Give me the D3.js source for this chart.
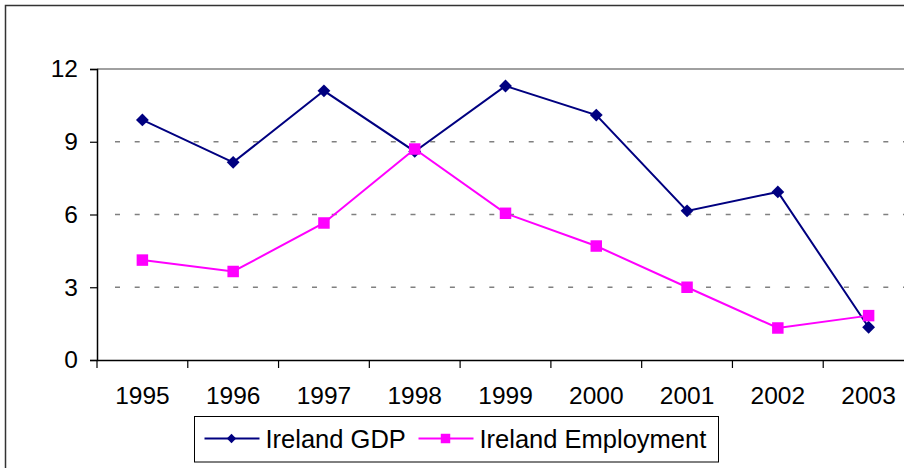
<!DOCTYPE html>
<html>
<head>
<meta charset="utf-8">
<script src="https://cdn.jsdelivr.net/npm/d3@7"></script>
<style>
  body { margin: 0; background: #fff; }
  svg { display: block; font-family: "Liberation Sans", Arial, sans-serif; }
</style>
</head>
<body>
<div id="chart"></div>
<script>
const years = ['1995', '1996', '1997', '1998', '1999', '2000', '2001', '2002', '2003']
const gdp = [9.9, 8.15, 11.1, 8.6, 11.3, 10.1, 6.15, 6.93, 1.35]
const employment = [4.12, 3.65, 5.65, 8.7, 6.05, 4.7, 3.0, 1.32, 1.83]
const yTicks = [0, 3, 6, 9, 12]

const margin = {top: 69, left: 97}
const plotW = 817, plotH = 291

const svg = d3.select('#chart')
  .append('svg')
    .attr('width', 904)
    .attr('height', 468)

// outer frame
svg.append('rect')
  .attr('x', 5.5).attr('y', 5.5)
  .attr('width', 1000).attr('height', 1000)
  .attr('fill', 'none')
  .attr('stroke', '#333')
  .attr('stroke-width', 1.5)

const g = svg.append('g')
  .attr('transform', `translate(${margin.left},${margin.top})`)

const x = d3.scaleBand().domain(years).range([0, plotW])
const y = d3.scaleLinear().domain([0, 12]).range([plotH, 0])

// gridlines
g.append('g')
  .selectAll('line')
  .data(yTicks.filter(d => d > 0))
  .enter()
  .append('line')
    .attr('x1', d => d === 12 ? 0 : 18).attr('x2', plotW)
    .attr('y1', d => y(d)).attr('y2', d => y(d))
    .attr('stroke', '#808080')
    .attr('stroke-width', 1.6)
    .attr('stroke-dasharray', d => d === 12 ? null : '5,14.7')

// axes
const leftAxis = d3.axisLeft(y).tickValues(yTicks).tickSize(7).tickPadding(12)
const bottomAxis = d3.axisBottom(x).tickSize(0).tickPadding(27)

const ya = g.append('g').call(leftAxis)
const xa = g.append('g').attr('transform', `translate(0,${plotH})`).call(bottomAxis)

// x ticks between categories
xa.append('g')
  .selectAll('line')
  .data(years)
  .enter()
  .append('line')
    .attr('x1', d => x(d)).attr('x2', d => x(d))
    .attr('y1', 0).attr('y2', 8)
    .attr('stroke', '#000')
    .attr('stroke-width', 1.2)

;[ya, xa].forEach(a => {
  a.select('.domain').attr('stroke', '#000').attr('stroke-width', 1.5)
  a.selectAll('.tick line').attr('stroke', '#000').attr('stroke-width', 1.2)
  a.selectAll('text').attr('font-size', 24.5).attr('fill', '#000')
    .style('font-family', '"Liberation Sans", Arial, sans-serif')
})

const cx = d => x(d) + x.bandwidth() / 2
const line = vals => d3.line()
  .x((d, i) => cx(years[i]))
  .y(d => y(d))(vals)

// series
g.append('path').attr('d', line(gdp))
  .attr('fill', 'none').attr('stroke', '#000080').attr('stroke-width', 2)
g.append('path').attr('d', line(employment))
  .attr('fill', 'none').attr('stroke', '#ff00ff').attr('stroke-width', 2)

const diamond = d3.symbol().type(d3.symbolDiamond2).size(105)
const square = d3.symbol().type(d3.symbolSquare).size(132)

g.append('g').selectAll('path')
  .data(gdp).enter()
  .append('path')
    .attr('d', diamond)
    .attr('transform', (d, i) => `translate(${cx(years[i])},${y(d)})`)
    .attr('fill', '#000080')

g.append('g').selectAll('path')
  .data(employment).enter()
  .append('path')
    .attr('d', square)
    .attr('transform', (d, i) => `translate(${cx(years[i])},${y(d)})`)
    .attr('fill', '#ff00ff')

// legend
const legend = svg.append('g').attr('transform', 'translate(194.5,416.5)')
legend.append('rect')
  .attr('width', 524).attr('height', 45.5)
  .attr('fill', '#fff').attr('stroke', '#000').attr('stroke-width', 1)

const legDiamond = d3.symbol().type(d3.symbolDiamond2).size(55)
const legSquare = d3.symbol().type(d3.symbolSquare).size(90)
const items = [
  {name: 'Ireland GDP', color: '#000080', sym: legDiamond, x: 10},
  {name: 'Ireland Employment', color: '#ff00ff', sym: legSquare, x: 224}
]
const li = legend.selectAll('.item').data(items).enter()
  .append('g').attr('transform', d => `translate(${d.x},22)`)
li.append('line').attr('x1', 0).attr('x2', 55)
  .attr('stroke', d => d.color).attr('stroke-width', 2)
li.append('path').attr('d', d => d.sym()).attr('transform', 'translate(27,0)')
  .attr('fill', d => d.color)
li.append('text').attr('x', 61).attr('dy', '0.36em')
  .attr('font-size', 25.5).text(d => d.name)
</script>
</body>
</html>
